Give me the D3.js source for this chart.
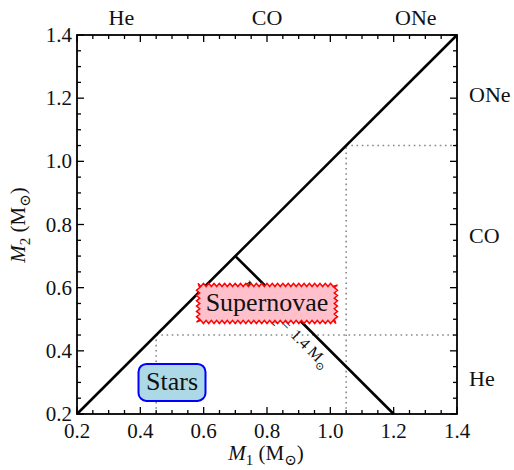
<!DOCTYPE html>
<html>
<head>
<meta charset="utf-8">
<script src="https://cdn.jsdelivr.net/npm/d3@7"></script>
<style>
  html, body { margin: 0; padding: 0; background: #fff; }
  svg { display: block; }
</style>
</head>
<body>
<svg id="chart" width="514" height="470"></svg>
<script>
// ---- data ----
const axisTicks = [0.2, 0.4, 0.6, 0.8, 1.0, 1.2, 1.4];
const tickLabels = ["0.2", "0.4", "0.6", "0.8", "1.0", "1.2", "1.4"];
const coreTypes = ["He", "CO", "ONe"];
const coreBoundaries = [0.45, 1.05];
const topLabelPos = [0.34, 0.80, 1.27];
const rightLabelPos = [0.31, 0.765, 1.21];
const chandraMass = 1.4;
const diagonalEnds = [0.2, 1.4];
const chandraLine = [[0.7, 0.7], [1.2, 0.2]];
const boxNames = ["Supernovae", "Stars"];
const boxM1 = [0.80, 0.50];
const boxM2 = [0.55, 0.30];

// ---- layout ----
const FONT = "'Liberation Serif', 'DejaVu Serif', serif";
const svg = d3.select("#chart");
const x = d3.scaleLinear().domain([0.2, 1.4]).range([77, 457]);
const y = d3.scaleLinear().domain([0.2, 1.4]).range([414, 35]);
const minorTicks = d3.range(0.2, 1.4001, 0.05);

function txt(sel) { return sel.style("font-family", FONT).attr("fill", "#111"); }

// dotted boundaries
const dotted = [
  [[coreBoundaries[0], 0.2], [coreBoundaries[0], coreBoundaries[0]]],
  [[coreBoundaries[0], coreBoundaries[0]], [1.4, coreBoundaries[0]]],
  [[coreBoundaries[1], 0.2], [coreBoundaries[1], coreBoundaries[1]]],
  [[coreBoundaries[1], coreBoundaries[1]], [1.4, coreBoundaries[1]]]
];
svg.append("g").selectAll("line").data(dotted).join("line")
  .attr("x1", d => x(d[0][0])).attr("y1", d => y(d[0][1]))
  .attr("x2", d => x(d[1][0])).attr("y2", d => y(d[1][1]))
  .attr("stroke", "#888").attr("stroke-width", 1.6)
  .attr("stroke-dasharray", "1.6,3.6");

// main lines
const line = d3.line().x(d => x(d[0])).y(d => y(d[1]));
svg.append("path").attr("d", line(diagonalEnds.map(v => [v, v])))
  .attr("fill", "none").attr("stroke", "#000").attr("stroke-width", 2.6);
svg.append("path").attr("d", line(chandraLine))
  .attr("fill", "none").attr("stroke", "#000").attr("stroke-width", 2.6);

// Chandrasekhar label along line
{
  const m1 = 1.007, m2 = chandraMass - m1;
  const t = txt(svg.append("text"))
    .attr("transform", `translate(${x(m1)},${y(m2)}) rotate(45)`)
    .attr("x", 5).attr("y", 18)
    .attr("text-anchor", "end")
    .style("font-size", "16px");
  t.append("tspan").style("font-style", "italic").text("M");
  t.append("tspan").attr("dy", 4).style("font-size", "11px").text("1");
  t.append("tspan").attr("dy", -4).attr("dx", 3).text("+");
  t.append("tspan").attr("dx", 3).style("font-style", "italic").text("M");
  t.append("tspan").attr("dy", 4).style("font-size", "11px").text("2");
  t.append("tspan").attr("dy", -4).attr("dx", 2).text("=");
  t.append("tspan").attr("dx", 6).text(chandraMass.toFixed(1) + " M");
  t.append("tspan").attr("dy", 4).style("font-size", "11px").text("\u2299");
}

// frame
svg.append("rect").attr("x", x(0.2)).attr("y", y(1.4))
  .attr("width", x(1.4) - x(0.2)).attr("height", y(0.2) - y(1.4))
  .attr("fill", "none").attr("stroke", "#000").attr("stroke-width", 1.8);

// ticks (inward, all sides)
function isMajor(v) { return axisTicks.some(t => Math.abs(t - v) < 1e-6); }
const tk = svg.append("g").attr("stroke", "#000").attr("stroke-width", 1.3);
minorTicks.forEach(v => {
  const L = isMajor(v) ? 7 : 4;
  tk.append("line").attr("x1", x(v)).attr("x2", x(v)).attr("y1", y(0.2)).attr("y2", y(0.2) - L);
  tk.append("line").attr("x1", x(v)).attr("x2", x(v)).attr("y1", y(1.4)).attr("y2", y(1.4) + L);
  tk.append("line").attr("y1", y(v)).attr("y2", y(v)).attr("x1", x(0.2)).attr("x2", x(0.2) + L);
  tk.append("line").attr("y1", y(v)).attr("y2", y(v)).attr("x1", x(1.4)).attr("x2", x(1.4) - L);
});

// tick labels
txt(svg.append("g").selectAll("text").data(axisTicks).join("text"))
  .attr("x", d => x(d)).attr("y", 438)
  .attr("text-anchor", "middle").style("font-size", "21px")
  .text((d, i) => tickLabels[i]);
txt(svg.append("g").selectAll("text").data(axisTicks).join("text"))
  .attr("x", 72).attr("y", d => y(d) + 7)
  .attr("text-anchor", "end").style("font-size", "21px")
  .text((d, i) => tickLabels[i]);

// core type labels
txt(svg.append("g").selectAll("text").data(coreTypes).join("text"))
  .attr("x", (d, i) => x(topLabelPos[i])).attr("y", 25)
  .attr("text-anchor", "middle").style("font-size", "22px").text(d => d);
txt(svg.append("g").selectAll("text").data(coreTypes).join("text"))
  .attr("x", 469).attr("y", (d, i) => y(rightLabelPos[i]) + 7)
  .attr("text-anchor", "start").style("font-size", "22px").text(d => d);

// axis labels
function massLabel(sel, idx) {
  sel.append("tspan").style("font-style", "italic").text("M");
  sel.append("tspan").attr("dy", 5).style("font-size", "15px").text(idx);
  sel.append("tspan").attr("dy", -5).text(" (M");
  sel.append("tspan").attr("dy", 5).style("font-size", "15px").text("\u2299");
  sel.append("tspan").attr("dy", -5).text(")");
}
const xl = txt(svg.append("text")).attr("x", 266).attr("y", 460)
  .attr("text-anchor", "middle").style("font-size", "21px");
massLabel(xl, "1");
const yl = txt(svg.append("text"))
  .attr("transform", `translate(25,225) rotate(-90)`)
  .attr("text-anchor", "middle").style("font-size", "21px");
massLabel(yl, "2");

// boxes
function sawPath(x0, y0, x1, y1, period, amp) {
  const pts = [];
  const edges = [[[x0, y0], [x1, y0], [0, -1]], [[x1, y0], [x1, y1], [1, 0]],
                 [[x1, y1], [x0, y1], [0, 1]], [[x0, y1], [x0, y0], [-1, 0]]];
  edges.forEach(([a, b, nrm]) => {
    const len = Math.hypot(b[0] - a[0], b[1] - a[1]);
    const n = Math.max(2, Math.round(len / period) * 2);
    for (let k = 0; k < n; k++) {
      const f = k / n;
      const s = (k % 2 === 0) ? amp : -amp;
      pts.push([a[0] + (b[0] - a[0]) * f + nrm[0] * s, a[1] + (b[1] - a[1]) * f + nrm[1] * s]);
    }
  });
  return "M" + pts.map(p => p.join(",")).join("L") + "Z";
}

boxNames.forEach((name, i) => {
  const fs = 26;
  const cx = x(boxM1[i]), cy = y(boxM2[i]);
  const g = svg.append("g");
  const t = txt(g.append("text")).attr("x", cx).attr("y", cy + 0.3 * fs)
    .attr("text-anchor", "middle").style("font-size", fs + "px").text(name);
  const w = t.node().getComputedTextLength();
  const padX = 7.5, halfH = 18.5;
  if (i === 0) {
    g.insert("path", "text")
      .attr("d", sawPath(cx - w / 2 - padX, cy - halfH, cx + w / 2 + padX, cy + halfH, 5.4, 1.6))
      .attr("fill", "#ffc0cb").attr("stroke", "#ff0000").attr("stroke-width", 1.5)
      .attr("stroke-linejoin", "miter");
  } else {
    g.insert("rect", "text")
      .attr("x", cx - w / 2 - padX).attr("y", cy - halfH)
      .attr("width", w + 2 * padX).attr("height", 2 * halfH)
      .attr("rx", 8).attr("ry", 8)
      .attr("fill", "#add8e6").attr("stroke", "#0000ff").attr("stroke-width", 2);
  }
});
</script>
</body>
</html>
